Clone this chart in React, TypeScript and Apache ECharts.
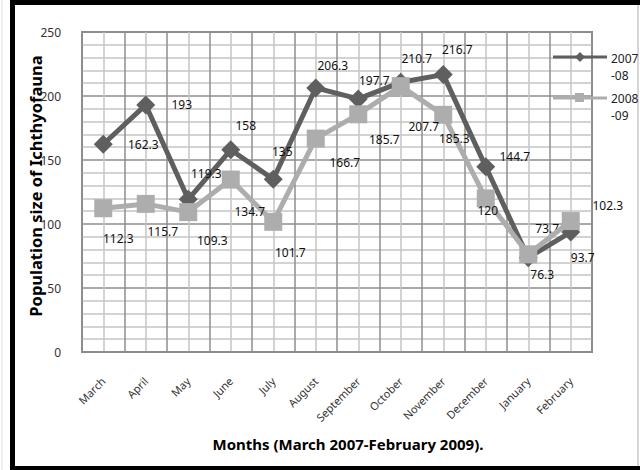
import React, { useEffect, useRef } from "react";
import * as echarts from "echarts";

const months = ["March", "April", "May", "June", "July", "August", "September", "October", "November", "December", "January", "February"];
const series0708 = [162.3, 193, 119.3, 158, 135, 206.3, 197.7, 210.7, 216.7, 144.7, 73.7, 93.7];
const series0809 = [112.3, 115.7, 109.3, 134.7, 101.7, 166.7, 185.7, 207.7, 185.3, 120, 76.3, 102.3];
const seriesNames = ["2007-08", "2008-09"];
const yMin = 0;
const yMax = 250;
const yStep = 50;

// label nudges (style only), relative to each point
const labelNudge0708 = [[40, 0], [36, 0], [18, -26], [15, -24], [9, -28], [17, -22], [16, -18], [16, -24], [14, -25], [29, -10], [19, -29], [12, 25]];
const labelNudge0809 = [[15, 30], [17, 28], [24, 28], [19, 32], [17, 31], [29, 24], [26, 25], [23, 40], [11, 24], [2, 12], [14, 20], [37, -16]];

const DARK = "#5f5f5f";
const LIGHT = "#adadad";
const FONT = "Noto Sans";

export default function App() {
  const ref = useRef<HTMLDivElement>(null);
  useEffect(() => {
    if (!ref.current) return;
    const chart = echarts.init(ref.current, undefined, { renderer: "svg" });
    const mkData = (vals: number[], nudges: number[][]) =>
      vals.map((v, i) => ({ value: v, label: { offset: nudges[i] } }));
    chart.setOption({
      animation: false,
      backgroundColor: "#ffffff",
      grid: { left: 82, top: 32, width: 510, height: 320, show: true, borderColor: "#8c8c8c", borderWidth: 2, backgroundColor: "transparent" },
      xAxis: [
        {
          type: "category",
          data: months,
          boundaryGap: true,
          axisLine: { show: true, lineStyle: { color: "#8c8c8c", width: 2 } },
          axisTick: { show: false },
          splitLine: { show: false },
          axisLabel: { rotate: 45, margin: 27, fontSize: 11, fontFamily: FONT, color: "#333", interval: 0 },
        },
        {
          type: "value",
          position: "top",
          min: 0,
          max: 12,
          interval: 1,
          axisLine: { show: false },
          axisTick: { show: false },
          axisLabel: { show: false },
          splitLine: { show: true, lineStyle: { color: "#8e8e8e", width: 1.5 } },
          minorTick: { show: false, splitNumber: 2 },
          minorSplitLine: { show: true, lineStyle: { color: "#c4c4c4", width: 1.5 } },
        },
      ],
      yAxis: {
        type: "value",
        min: yMin,
        max: yMax,
        interval: yStep,
        axisLine: { show: false },
        axisTick: { show: false },
        axisLabel: { margin: 21, fontSize: 12, fontFamily: FONT, color: "#333" },
        splitLine: { show: true, lineStyle: { color: "#8e8e8e", width: 1.5 } },
        minorTick: { show: false, splitNumber: 5 },
        minorSplitLine: { show: true, lineStyle: { color: "#c4c4c4", width: 1.5 } },
      },
      series: [
        {
          name: seriesNames[0],
          type: "line",
          xAxisIndex: 0,
          data: mkData(series0708, labelNudge0708),
          symbol: "diamond",
          symbolSize: 19,
          lineStyle: { color: DARK, width: 5 },
          itemStyle: { color: DARK },
          label: { show: true, position: "inside", fontSize: 12, fontFamily: FONT, color: "#111" },
          z: 3,
        },
        {
          name: seriesNames[1],
          type: "line",
          xAxisIndex: 0,
          data: mkData(series0809, labelNudge0809),
          symbol: "rect",
          symbolSize: 18,
          lineStyle: { color: LIGHT, width: 5 },
          itemStyle: { color: LIGHT },
          label: { show: true, position: "inside", fontSize: 12, fontFamily: FONT, color: "#111" },
          z: 4,
        },
      ],
      graphic: [
        // outer frame
        { type: "rect", shape: { x: 10, y: 0, width: 5, height: 470 }, style: { fill: "#000" }, silent: true },
        { type: "rect", shape: { x: 10, y: 0, width: 630, height: 5 }, style: { fill: "#000" }, silent: true },
        { type: "rect", shape: { x: 10, y: 466, width: 630, height: 4 }, style: { fill: "#000" }, silent: true },
        { type: "line", shape: { x1: 638, y1: 5, x2: 638, y2: 466 }, style: { stroke: "#c8c8c8", lineWidth: 1.5 }, silent: true },
        { type: "line", shape: { x1: 2, y1: 0, x2: 2, y2: 470 }, style: { stroke: "#e0e0e0", lineWidth: 1 }, silent: true },
        // legend
        { type: "line", z: 10, shape: { x1: 553, y1: 57, x2: 607, y2: 57 }, style: { stroke: DARK, lineWidth: 3 } },
        { type: "polygon", z: 10, shape: { points: [[580, 52], [585, 57], [580, 62], [575, 57]] }, style: { fill: DARK } },
        { type: "text", z: 10, x: 611, y: 50, style: { text: "2007\n-08", font: `12px '${FONT}'`, fill: "#222", lineHeight: 17 } },
        { type: "line", z: 10, shape: { x1: 553, y1: 98, x2: 607, y2: 98 }, style: { stroke: LIGHT, lineWidth: 3 } },
        { type: "rect", z: 10, shape: { x: 575, y: 93, width: 9, height: 9 }, style: { fill: LIGHT } },
        { type: "text", z: 10, x: 611, y: 90, style: { text: "2008\n-09", font: `12px '${FONT}'`, fill: "#222", lineHeight: 17 } },
        // axis titles
        {
          type: "text",
          x: 35,
          y: 186,
          rotation: Math.PI / 2,
          style: { text: "Population size of Ichthyofauna", font: `bold 16.5px '${FONT}'`, fill: "#000", align: "center", verticalAlign: "middle" },
        },
        {
          type: "text",
          x: 348,
          y: 444,
          style: { text: "Months (March 2007-February 2009).", font: `bold 15px '${FONT}'`, fill: "#000", align: "center", verticalAlign: "middle" },
        },
      ],
    });
    return () => chart.dispose();
  }, []);
  return <div ref={ref} style={{ position: "absolute", left: 0, top: 0, width: 640, height: 470, background: "#fff" }} />;
}
